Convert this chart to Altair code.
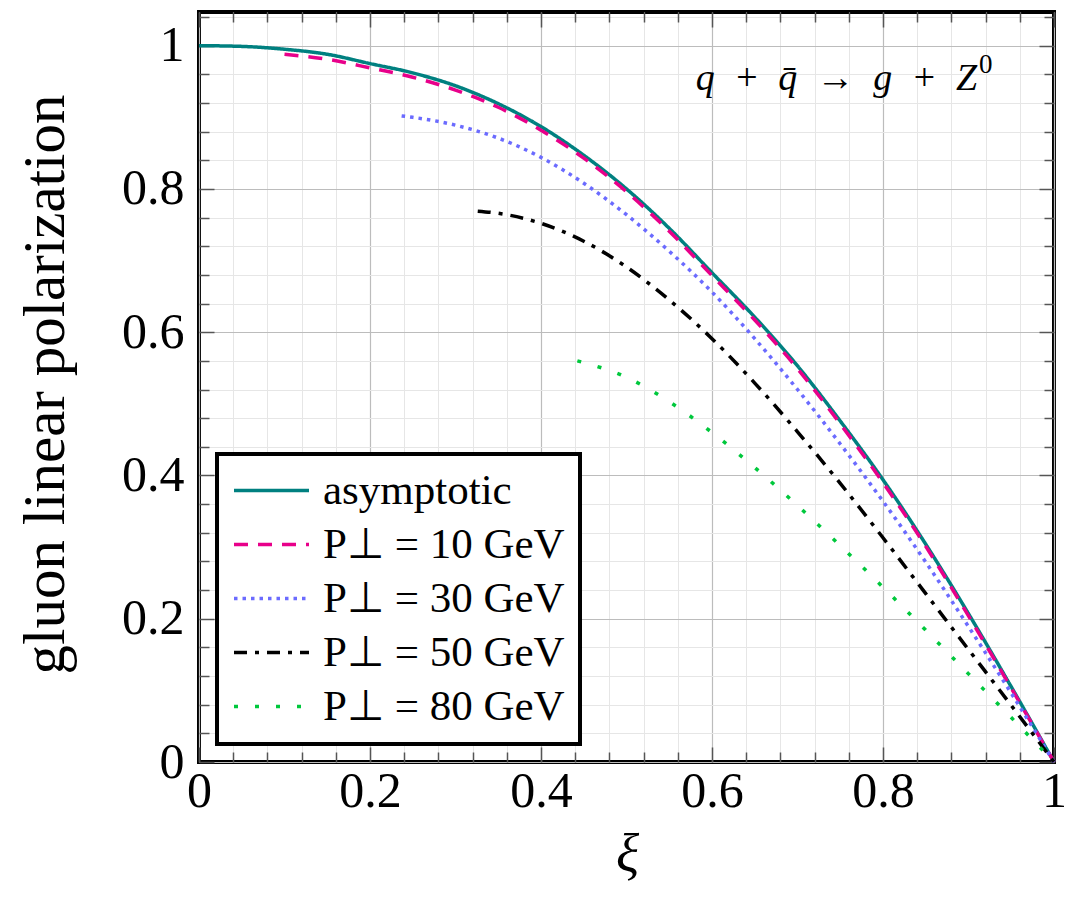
import altair as alt
import pandas as pd

FONT = "Liberation Serif"

# ---- series ----
series_names = ["asymptotic", "P⊥ = 10 GeV", "P⊥ = 30 GeV", "P⊥ = 50 GeV", "P⊥ = 80 GeV"]
series_colors = ["#008080", "#e8008a", "#6b6bff", "#000000", "#00c83c"]
series_dashes = [[1, 0], [14, 10], [3.5, 5], [13, 8, 4, 8], [4, 17]]

xi_asym = [0.0, 0.05, 0.1, 0.15, 0.2, 0.25, 0.3, 0.35, 0.4, 0.45, 0.5,
           0.55, 0.6, 0.65, 0.7, 0.75, 0.8, 0.85, 0.9, 0.95, 1.0]
pol_asym = [1.0, 0.999, 0.995, 0.988, 0.975, 0.962, 0.944, 0.919, 0.887, 0.847, 0.800,
            0.745, 0.683, 0.621, 0.553, 0.476, 0.394, 0.304, 0.207, 0.105, 0.0]

xi_10 = [0.1, 0.15, 0.2, 0.25, 0.3, 0.35, 0.4, 0.45, 0.5, 0.55,
         0.6, 0.65, 0.7, 0.75, 0.8, 0.85, 0.9, 0.95, 1.0]
pol_10 = [0.988, 0.981, 0.969, 0.956, 0.938, 0.914, 0.882, 0.843, 0.796, 0.741,
          0.679, 0.617, 0.549, 0.472, 0.390, 0.301, 0.204, 0.103, 0.0]

xi_30 = [0.237, 0.25, 0.3, 0.35, 0.4, 0.45, 0.5, 0.55, 0.6,
         0.65, 0.7, 0.75, 0.8, 0.85, 0.9, 0.95, 1.0]
pol_30 = [0.902, 0.900, 0.889, 0.871, 0.844, 0.808, 0.764, 0.713, 0.656,
          0.591, 0.520, 0.444, 0.364, 0.279, 0.189, 0.096, 0.0]

xi_50 = [0.326, 0.35, 0.4, 0.45, 0.5, 0.55, 0.6, 0.65, 0.7, 0.75, 0.8, 0.85, 0.9, 0.95, 1.0]
pol_50 = [0.769, 0.766, 0.752, 0.727, 0.691, 0.645, 0.591, 0.529, 0.461, 0.389,
          0.313, 0.235, 0.157, 0.079, 0.0]

xi_80 = [0.4425, 0.5, 0.55, 0.6, 0.65, 0.7, 0.75, 0.8, 0.85, 0.9, 0.95, 1.0]
pol_80 = [0.560, 0.537, 0.503, 0.460, 0.411, 0.358, 0.302, 0.244, 0.184, 0.123, 0.062, 0.0]

# ---- ticks ----
x_major = [0.0, 0.2, 0.4, 0.6, 0.8, 1.0]
x_minor = [0.04, 0.08, 0.12, 0.16, 0.24, 0.28, 0.32, 0.36, 0.44, 0.48,
           0.52, 0.56, 0.64, 0.68, 0.72, 0.76, 0.84, 0.88, 0.92, 0.96]
y_major = [0.0, 0.2, 0.4, 0.6, 0.8, 1.0]
y_minor = [0.04, 0.08, 0.12, 0.16, 0.24, 0.28, 0.32, 0.36, 0.44, 0.48,
           0.52, 0.56, 0.64, 0.68, 0.72, 0.76, 0.84, 0.88, 0.92, 0.96, 1.04]

# ---- annotation (process label with superscript) ----
annot_x = [0.91]
annot_y = [0.938]
annot_main = ["q\u2002+\u2002q\u0304\u2002\u2192\u2002g\u2002+\u2002Z"]
annot_sup = ["0"]

rows = []
for name, xs, ys in zip(series_names,
                        [xi_asym, xi_10, xi_30, xi_50, xi_80],
                        [pol_asym, pol_10, pol_30, pol_50, pol_80]):
    for i, (a, b) in enumerate(zip(xs, ys)):
        rows.append({"series": name, "xi": a, "pol": b, "order": i})
df = pd.DataFrame(rows)
df_annot = pd.DataFrame({"x": annot_x, "y": annot_y, "t": annot_main, "s": annot_sup})

W, H = 855, 750
x_scale = alt.Scale(domain=[0, 1], nice=False, zero=False)
y_scale = alt.Scale(domain=[0, 1.047], nice=False, zero=False)


def ax(values, orient, **kw):
    base = dict(values=values, orient=orient, title=None, domain=False,
                labels=False, ticks=False, grid=False)
    base.update(kw)
    return alt.Axis(**base)


def carrier(xaxis, yaxis):
    return alt.Chart(df).mark_point(opacity=0).encode(
        x=alt.X("xi:Q", scale=x_scale, axis=xaxis),
        y=alt.Y("pol:Q", scale=y_scale, axis=yaxis),
    )


TICK_C = "#555555"

minor_grid = carrier(
    ax(x_minor, "bottom", grid=True, gridColor="#e6e6e6", gridWidth=1),
    ax(y_minor, "left", grid=True, gridColor="#e6e6e6", gridWidth=1),
)

major_grid = carrier(
    ax(x_major, "bottom", grid=True, gridColor="#bcbcbc", gridWidth=1.2,
       labels=True, format="~g", labelFont=FONT, labelFontSize=50, labelColor="black",
       labelPadding=4, labelFlush=False, labelOverlap=False, tickSize=0,
       title="ξ", titleFont=FONT, titleFontSize=54, titleFontStyle="italic",
       titleFontWeight="normal", titleColor="black", titleX=428, titleY=93,
       titleBaseline="middle", titleAlign="center"),
    ax(y_major, "left", grid=True, gridColor="#bcbcbc", gridWidth=1.2,
       labels=True, format="~g", labelFont=FONT, labelFontSize=50, labelColor="black",
       labelPadding=15, labelFlush=False, labelOverlap=False, tickSize=0,
       title="gluon linear polarization", titleFont=FONT, titleFontSize=59,
       titleFontWeight="normal", titleColor="black", titleX=-154, titleY=372,
       titleAngle=270, titleBaseline="middle", titleAlign="center"),
)

bl_minor = carrier(
    ax(x_minor, "bottom", ticks=True, tickSize=10, offset=-10, tickColor=TICK_C, tickWidth=1.5),
    ax(y_minor, "left", ticks=True, tickSize=10, offset=-10, tickColor=TICK_C, tickWidth=1.5),
)
bl_major = carrier(
    ax(x_major, "bottom", ticks=True, tickSize=15, offset=-15, tickColor=TICK_C, tickWidth=1.5),
    ax(y_major, "left", ticks=True, tickSize=15, offset=-15, tickColor=TICK_C, tickWidth=1.5),
)
tr_minor = carrier(
    ax(x_minor, "top", ticks=True, tickSize=10, offset=-10, tickColor=TICK_C, tickWidth=1.5),
    ax(y_minor, "right", ticks=True, tickSize=10, offset=-10, tickColor=TICK_C, tickWidth=1.5),
)
tr_major = carrier(
    ax(x_major, "top", ticks=True, tickSize=15, offset=-15, tickColor=TICK_C, tickWidth=1.5),
    ax(y_major, "right", ticks=True, tickSize=15, offset=-15, tickColor=TICK_C, tickWidth=1.5),
)

legend = alt.Legend(
    title=None, orient="bottom-left", offset=18, fillColor="white", strokeColor="black",
    padding=15, labelFont=FONT, labelFontSize=43, labelColor="black", labelLimit=0,
    symbolType="stroke", symbolSize=5625, symbolStrokeWidth=3.5, clipHeight=43,
    rowPadding=10, labelOffset=12,
)

lines = alt.Chart(df).mark_line(strokeWidth=3.5, interpolate="monotone").encode(
    x=alt.X("xi:Q", scale=x_scale, axis=None),
    y=alt.Y("pol:Q", scale=y_scale, axis=None),
    color=alt.Color("series:N", scale=alt.Scale(domain=series_names, range=series_colors),
                    legend=legend),
    strokeDash=alt.StrokeDash("series:N",
                              scale=alt.Scale(domain=series_names, range=series_dashes),
                              legend=legend),
    order=alt.Order("order:Q"),
)

annot_main_layer = alt.Chart(df_annot).mark_text(
    font=FONT, fontSize=38, fontStyle="italic", align="right", baseline="alphabetic",
    color="black"
).encode(
    x=alt.X("x:Q", scale=x_scale, axis=None),
    y=alt.Y("y:Q", scale=y_scale, axis=None),
    text="t:N",
)

annot_sup_layer = alt.Chart(df_annot).mark_text(
    font=FONT, fontSize=27, align="left", baseline="alphabetic", color="black", dx=2, dy=-17
).encode(
    x=alt.X("x:Q", scale=x_scale, axis=None),
    y=alt.Y("y:Q", scale=y_scale, axis=None),
    text="s:N",
)

chart = alt.layer(
    minor_grid, major_grid, bl_minor, bl_major, tr_minor, tr_major, lines,
    annot_main_layer, annot_sup_layer
).resolve_axis(
    x="independent", y="independent"
).properties(
    width=W, height=H,
    autosize=alt.AutoSizeParams(type="none"),
    padding={"left": 191, "top": 4, "right": 12, "bottom": 130},
    background="white",
).configure_view(
    stroke="black", strokeWidth=4
).configure_legend(
    strokeWidth=4
)

chart.save("out.html", embed_options={"renderer": "svg", "actions": False})
